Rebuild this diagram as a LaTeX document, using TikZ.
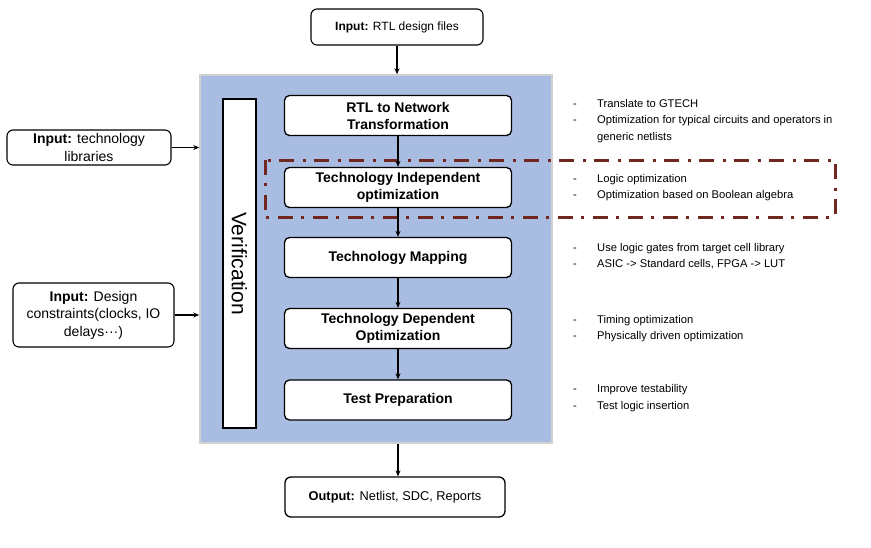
\documentclass[tikz,border=0pt]{standalone}
\usepackage{fontspec}
\setmainfont{Liberation Sans}
\usetikzlibrary{arrows.meta}
\definecolor{bluebg}{RGB}{169,188,225}
\definecolor{framered}{RGB}{112,40,30}
\begin{document}
\begin{tikzpicture}[x=1pt,y=-1pt,
 proc/.style={draw=black, line width=1.3pt, fill=white, rounded corners=5pt, minimum width=227pt, minimum height=40pt, align=center, font=\fontsize{14}{17}\selectfont\bfseries, inner sep=0pt},
 inbox/.style={draw=black, line width=1.1pt, fill=white, rounded corners=6pt, align=center, font=\fontsize{12}{15}\selectfont, inner sep=0pt},
 sidebox/.style={inbox, font=\fontsize{14}{17.5}\selectfont},
 arr/.style={-{Stealth[length=6pt,width=5pt]}, line width=1.8pt},
 note/.style={anchor=west, font=\fontsize{11.2}{16.5}\selectfont, align=left, inner sep=0pt}
]
\useasboundingbox (0,0) rectangle (871,547);
% top input
\node[inbox, minimum width=172pt, minimum height=36pt] (rtl) at (397,27) {\textbf{Input:} RTL design files};
% blue main area
\node[draw=black!18, line width=1.5pt, fill=bluebg, minimum width=352pt, minimum height=368pt, inner sep=0pt] (flow) at (376,259) {};
% verification bar
\node[draw=black, line width=1.1pt, fill=white, rotate=-90, minimum width=329pt, minimum height=33pt, inner sep=0pt, font=\fontsize{21}{21}\selectfont] (ver) at (239.5,263.5) {Verification};
% process steps
\node[proc] (p1) at (398,115.5) {RTL to Network\\Transformation};
\node[proc] (p2) at (398,187.5) {Technology Independent\\optimization};
\node[proc] (p3) at (398,257.5) {Technology Mapping};
\node[proc] (p4) at (398,328.5) {Technology Dependent\\Optimization};
\node[proc] (p5) at (398,400) {Test Preparation};
% output
\node[inbox, line width=1.3pt, minimum width=220pt, minimum height=40pt, font=\fontsize{12.8}{15}\selectfont] (out) at (395,497) {\textbf{Output:} Netlist, SDC, Reports};
% left inputs
\node[sidebox, minimum width=164pt, minimum height=35pt] (lib) at (89,147.5) {\textbf{Input:} technology\\libraries};
\node[sidebox, minimum width=161pt, minimum height=64pt] (cons) at (93.5,315) {\textbf{Input:} Design\\constraints(clocks, IO\\delays···)};
% dash-dot frame
\draw[framered, line width=3pt, dash pattern=on 15pt off 8pt on 3pt off 9pt] (265,160) rectangle (835,217);
% arrows
\draw[arr] (rtl.south) -- (rtl.south |- flow.north);
\draw[arr] (p1) -- (p2);
\draw[arr] (p2) -- (p3);
\draw[arr] (p3) -- (p4);
\draw[arr] (p4) -- (p5);
\draw[arr] (p5.south |- flow.south) -- (p5.south |- out.north);
\draw[arr] (lib.east) -- (lib.east -| flow.west);
\draw[arr] (cons.east) -- (cons.east -| flow.west);
% notes
\node[note] (n1) at (573,120.5) {\begin{tabular}{@{}p{24pt}@{}l@{}}-&Translate to GTECH\\-&Optimization for typical circuits and operators in\\&generic netlists\end{tabular}};
\node[note] (n2) at (573,187) {\begin{tabular}{@{}p{24pt}@{}l@{}}-&Logic optimization\\-&Optimization based on Boolean algebra\end{tabular}};
\node[note] (n3) at (573,256) {\begin{tabular}{@{}p{24pt}@{}l@{}}-&Use logic gates from target cell library\\-&ASIC -> Standard cells, FPGA -> LUT\end{tabular}};
\node[note] (n4) at (573,328) {\begin{tabular}{@{}p{24pt}@{}l@{}}-&Timing optimization\\-&Physically driven optimization\end{tabular}};
\node[note] (n5) at (573,397.5) {\begin{tabular}{@{}p{24pt}@{}l@{}}-&Improve testability\\-&Test logic insertion\end{tabular}};
\end{tikzpicture}
\end{document}
